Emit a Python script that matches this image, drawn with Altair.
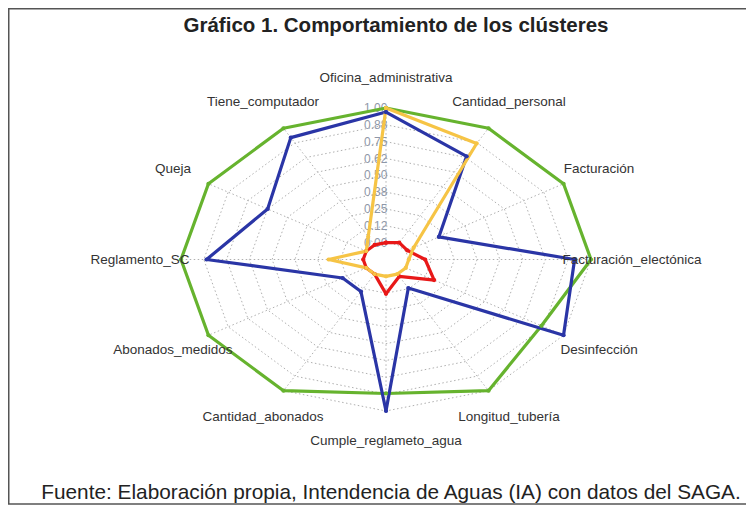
import altair as alt
import pandas as pd

# ---- data ----
axes = ["Oficina_administrativa", "Cantidad_personal", "Facturación",
        "Facturación_electónica", "Desinfección", "Longitud_tubería",
        "Cumple_reglameto_agua", "Cantidad_abonados", "Abonados_medidos",
        "Reglamento_SC", "Queja", "Tiene_computador"]
series_names = ["Clúster 1", "Clúster 2", "Clúster 3", "Clúster 4"]
green = [1.0, 1.0, 1.0, 1.0, 0.86, 1.0, 0.87, 1.0, 1.0, 1.0, 1.0, 1.0]
blue = [0.97, 0.76, 0.21, 0.91, 1.0, 0.12, 1.0, 0.15, 0.15, 0.86, 0.625, 0.92]
red = [0.0, 0.02, 0.01, 0.09, 0.18, 0.02, 0.13, 0.0, 0.0, 0.0, 0.0, 0.0]
yellow = [1.0, 0.87, 0.05, 0.0, 0.0, 0.0, 0.0, 0.0, 0.0, 0.19, 0.0, 0.07]
tick_labels = ["0.00", "0.12", "0.25", "0.38", "0.50", "0.62", "0.75", "0.88", "1.00"]
colors = ["#66b32e", "#2a35a6", "#e81818", "#f6c445"]
title_text = "Gráfico 1. Comportamiento de los clústeres"
footer_text = "Fuente: Elaboración propia, Intendencia de Aguas (IA) con datos del SAGA."

N = len(axes)
SEG = len(tick_labels) - 1

# ---- tables ----
rows = []
for name, vals in zip(series_names, [green, blue, red, yellow]):
    for i in range(N + 1):
        rows.append({"serie": name, "idx": i, "v": vals[i % N]})
series_df = pd.DataFrame(rows)

grid_rows = []
for k in range(1, SEG + 2):
    for i in range(N + 1):
        grid_rows.append({"level": k, "idx": i})
grid_df = pd.DataFrame(grid_rows)

spoke_df = pd.DataFrame({"idx": list(range(N))})
label_df = pd.DataFrame({"idx": list(range(N)), "label": axes})
tick_df = pd.DataFrame({"k": list(range(len(tick_labels))), "t": tick_labels})

W, H = 738, 498
CX, CY, RX, RY = 378.0, 251.5, 205.0, 151.5
xdom = [-CX / RX, (W - CX) / RX]
ydom = [(CY - H) / RY, CY / RY]
xs = alt.Scale(domain=xdom, nice=False, zero=False)
ys = alt.Scale(domain=ydom, nice=False, zero=False)

ang = "2*PI*datum.idx/%d" % N

grid = alt.Chart(grid_df).transform_calculate(
    r="datum.level/%d" % (SEG + 1)
).transform_calculate(
    x="datum.r*sin(%s)" % ang, y="datum.r*cos(%s)" % ang
).mark_line(color="#b0b0b0", strokeWidth=1, strokeDash=[1.5, 2.5]).encode(
    x=alt.X("x:Q", scale=xs, axis=None),
    y=alt.Y("y:Q", scale=ys, axis=None),
    detail="level:N",
    order="idx:Q",
)

spokes = alt.Chart(spoke_df).transform_calculate(
    x1="sin(%s)/%d" % (ang, SEG + 1), y1="cos(%s)/%d" % (ang, SEG + 1),
    x2="sin(%s)" % ang, y2="cos(%s)" % ang,
).mark_rule(color="#b0b0b0", strokeWidth=1, strokeDash=[1.5, 2.5]).encode(
    x=alt.X("x1:Q", scale=xs, axis=None),
    y=alt.Y("y1:Q", scale=ys, axis=None),
    x2="x2:Q", y2="y2:Q",
)

ticks = alt.Chart(tick_df).transform_calculate(
    x="-0.05", y="(datum.k+1)/%d" % (SEG + 1)
).mark_text(font="Liberation Sans", fontSize=12, color="#8e97a8").encode(
    x=alt.X("x:Q", scale=xs, axis=None),
    y=alt.Y("y:Q", scale=ys, axis=None),
    text="t:N",
)

color_scale = alt.Scale(domain=series_names, range=colors)

base = alt.Chart(series_df).transform_calculate(
    r="(1+%d*datum.v)/%d" % (SEG, SEG + 1)
).transform_calculate(
    x="datum.r*sin(%s)" % ang, y="datum.r*cos(%s)" % ang
)

lines = base.mark_line(strokeWidth=3.2, strokeJoin="round").encode(
    x=alt.X("x:Q", scale=xs, axis=None),
    y=alt.Y("y:Q", scale=ys, axis=None),
    color=alt.Color("serie:N", scale=color_scale, legend=None),
    order="idx:Q",
)
pts = base.mark_point(filled=True, size=18, opacity=1).encode(
    x=alt.X("x:Q", scale=xs, axis=None),
    y=alt.Y("y:Q", scale=ys, axis=None),
    color=alt.Color("serie:N", scale=color_scale, legend=None),
)

labels = alt.Chart(label_df).transform_calculate(
    x="1.2*sin(%s)" % ang, y="1.2*cos(%s)" % ang
).mark_text(font="Liberation Sans", fontSize=13.5, color="#333333").encode(
    x=alt.X("x:Q", scale=xs, axis=None),
    y=alt.Y("y:Q", scale=ys, axis=None),
    text="label:N",
)

title = alt.Chart(pd.DataFrame({"t": [title_text]})).mark_text(
    font="Liberation Sans", fontSize=20.5, fontWeight="bold", color="#222222"
).encode(x=alt.value(388), y=alt.value(18), text="t:N")

footer = alt.Chart(pd.DataFrame({"t": [footer_text]})).mark_text(
    font="Liberation Sans", fontSize=20.8, color="#222222"
).encode(x=alt.value(383), y=alt.value(485), text="t:N")

border_top = alt.Chart(pd.DataFrame({"a": [0]})).mark_rule(color="#555555", strokeWidth=1.5).encode(
    x=alt.value(0), x2=alt.value(W), y=alt.value(0.75))
border_left = alt.Chart(pd.DataFrame({"a": [0]})).mark_rule(color="#555555", strokeWidth=1.5).encode(
    x=alt.value(0.75), y=alt.value(0), y2=alt.value(496))
border_bot = alt.Chart(pd.DataFrame({"a": [0]})).mark_rule(color="#555555", strokeWidth=1.5).encode(
    x=alt.value(0), x2=alt.value(W), y=alt.value(496))

chart = alt.layer(
    grid, spokes, ticks, lines, pts, labels, title, footer,
    border_top, border_left, border_bot
).properties(
    width=W, height=H, padding=0, autosize=alt.AutoSizeParams(type="none")
).configure_view(stroke=None)

chart.save("out.html", embed_options={"renderer": "svg", "actions": False})
